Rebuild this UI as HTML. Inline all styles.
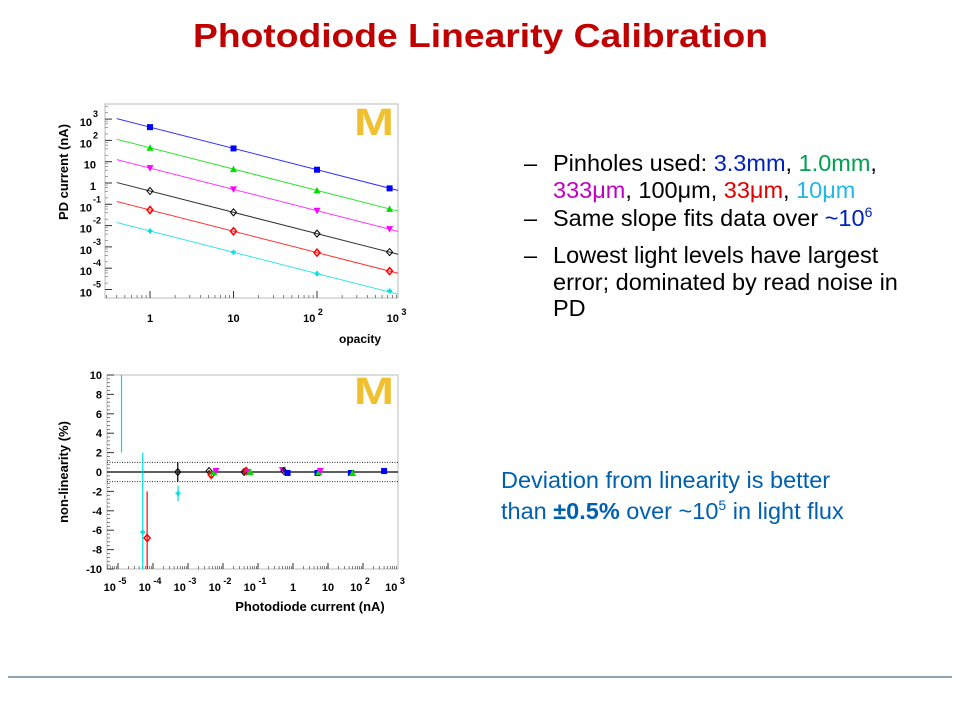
<!DOCTYPE html>
<html><head><meta charset="utf-8"><style>
body{margin:0;width:960px;height:720px;background:#fff;overflow:hidden;font-family:"Liberation Sans",sans-serif}
svg{position:absolute;left:0;top:0}
</style></head><body>
<svg width="960" height="720" font-family="Liberation Sans, sans-serif">
<text x="193" y="47" textLength="575" lengthAdjust="spacingAndGlyphs" font-size="33" font-weight="bold" fill="#c00000">Photodiode Linearity Calibration</text>
<g font-size="23.5" fill="#000">
<text x="524" y="171">–</text><text x="553" y="171">Pinholes used: <tspan fill="#0020c0">3.3mm</tspan>, <tspan fill="#00a050">1.0mm</tspan>,</text>
<text x="553" y="198"><tspan fill="#c000c0">333μm</tspan>, 100μm, <tspan fill="#e00000">33μm</tspan>, <tspan fill="#20b8e8">10μm</tspan></text>
<text x="524" y="226">–</text><text x="553" y="226">Same slope fits data over <tspan fill="#0020c0">~10<tspan font-size="14" dy="-9">6</tspan></tspan></text>
<text x="524" y="263">–</text><text x="553" y="263">Lowest light levels have largest</text>
<text x="553" y="290">error; dominated by read noise in</text>
<text x="553" y="316">PD</text>
</g>
<g font-size="23.5" fill="#0060b0">
<text x="501" y="488">Deviation from linearity is better</text>
<text x="501" y="519">than <tspan font-weight="bold">±0.5%</tspan> over ~10<tspan font-size="14" dy="-9">5</tspan><tspan dy="9"> in light flux</tspan></text>
</g>
<line x1="8" y1="677" x2="952" y2="677" stroke="#1f4e5a" stroke-width="1"/>
<g id="top"></g>
<g id="bot"></g>
</svg>
<script>
const NS='http://www.w3.org/2000/svg';
function mk(p,t,a){const e=document.createElementNS(NS,t);for(const k in a)e.setAttribute(k,a[k]);p.appendChild(e);return e;}
const seriesColors=['#0000ff','#00dd00','#ff00ff','#000000','#ff0000','#00e0e0'];
// top chart data
const opacity=[1,10,100,740];
const fitAtOne=[420,45,5,0.42,0.054,0.0056];
const seriesValues=[
 [420,42,4.2,0.56],
 [45,4.5,0.45,0.061],
 [5,0.5,0.05,0.0068],
 [0.42,0.042,0.0042,0.00057],
 [0.054,0.0054,0.00054,0.000073],
 [0.0056,0.00056,0.000056,0.0000085]];
const topXTicks=['1','10','10 2','10 3'];
const topYTicks=['10 3','10 2','10','1','10 -1','10 -2','10 -3','10 -4','10 -5'];
// bottom chart data
const pdCurrent=[1.26e-5,5.1e-5,6.8e-5,5.1e-4,5.2e-4,4.0e-3,4.6e-3,5.5e-3,6.3e-3,4.0e-2,4.6e-2,5.2e-2,6.0e-2,0.5,0.55,0.7,5,5.5,6,45,50,400];
const nonLin=[12,-6.2,-6.8,0,-2.2,0.1,-0.3,0,0.1,0,0.1,0,0,0.2,0.1,-0.1,-0.1,0,0.1,-0.1,-0.1,0.1];
const errLo=[2,-10,-10,-1,-3,0,-0.5,-0.2,0,-0.2,0,-0.2,-0.2,0,0,-0.3,-0.3,-0.2,0,-0.2,-0.2,0];
const errHi=[10,2,-2,1,-1.4,0.2,0,0.2,0.2,0.2,0.2,0.2,0.2,0.4,0.3,0.1,0.1,0.2,0.2,0.1,0.1,0.2];
const pointSeries=[5,5,4,3,5,3,4,1,2,3,4,2,1,2,3,0,0,1,2,0,1,0];
const botXTicks=['10 -5','10 -4','10 -3','10 -2','10 -1','1','10','10 2','10 3'];
const botYTicks=[10,8,6,4,2,0,-2,-4,-6,-8,-10];

function marker(g,c,cx,cy){
 if(c===0)mk(g,'rect',{x:cx-3,y:cy-3,width:6,height:6,fill:seriesColors[0]});
 else if(c===1)mk(g,'polygon',{points:`${cx},${cy-3.5} ${cx+3.5},${cy+3} ${cx-3.5},${cy+3}`,fill:seriesColors[1]});
 else if(c===2)mk(g,'polygon',{points:`${cx},${cy+3.5} ${cx+3.5},${cy-3} ${cx-3.5},${cy-3}`,fill:seriesColors[2]});
 else if(c===3)mk(g,'polygon',{points:`${cx},${cy-3.5} ${cx+3},${cy} ${cx},${cy+3.5} ${cx-3},${cy}`,fill:'none',stroke:'#000'});
 else if(c===4)mk(g,'polygon',{points:`${cx},${cy-3.5} ${cx+3},${cy} ${cx},${cy+3.5} ${cx-3},${cy}`,fill:'none',stroke:'#ff0000','stroke-width':1.5});
 else mk(g,'path',{d:`M${cx-2.5},${cy}h5M${cx},${cy-2.5}v5`,stroke:seriesColors[5],'stroke-width':2});
}
function logo(g,x,y){
 const l=mk(g,'text',{x:x,y:y,'font-size':38,'font-weight':'bold','font-family':'Liberation Sans, sans-serif',fill:'#f0c030',textLength:40,lengthAdjust:'spacingAndGlyphs'});l.textContent='M';
 
}
function tickLabel(g,x,y,s,anchor){
 const p=s.split(' ');const t=mk(g,'text',{x:x,y:y,'font-size':11,'font-weight':'bold','text-anchor':anchor||'middle'});
 t.textContent=p[0];
 if(p[1]){const ts=mk(t,'tspan',{dy:-7,'font-size':9});ts.textContent=' '+p[1];}
}
// TOP
(function(){
 const g=document.getElementById('top');
 const L=105,R=398,T=104,B=298;
 const xs=v=>150+Math.log10(v)*83.5;
 const ys=v=>183-Math.log10(v)*21.3;
 const fr=mk(g,'rect',{x:L,y:T,width:R-L,height:B-T,fill:'#fff',stroke:'#bbb'});
 
 for(let d=-1;d<3;d++)for(let k=1;k<10;k++){const x=xs(k*Math.pow(10,d));if(x<L||x>R)continue;mk(g,'line',{x1:x,y1:B,x2:x,y2:B-(k===1?7:3),stroke:'#333','stroke-width':k===1?1:0.6});}
 for(let d=-6;d<4;d++){const y=ys(Math.pow(10,d));if(y<T||y>B)continue;mk(g,'line',{x1:L,y1:y,x2:L+7,y2:y,stroke:'#333'});
  for(let k=2;k<10;k+=2){const y2=ys(k*Math.pow(10,d));if(y2<T)continue;mk(g,'line',{x1:L,y1:y2,x2:L+3,y2:y2,stroke:'#666','stroke-width':0.6});}}
 topXTicks.forEach((s,i)=>tickLabel(g,xs(Math.pow(10,i))-(i>1?4:0),322,s));
 topYTicks.forEach((s,i)=>{const p=s.split(' ');tickLabel(g,p[1]?92:96,ys(Math.pow(10,3-i))+7,p[0],'end');
  if(p[1]){const t=mk(g,'text',{x:93,y:ys(Math.pow(10,3-i))-2,'font-size':9,'font-weight':'bold'});t.textContent=p[1];}});
 const yt=mk(g,'text',{transform:'translate(68,172) rotate(-90)','text-anchor':'middle','font-size':13,'font-weight':'bold'});yt.textContent='PD current (nA)';
 
 const xt=mk(g,'text',{x:360,y:343,'text-anchor':'middle','font-size':12,'font-weight':'bold'});xt.textContent='opacity';
 
 fitAtOne.forEach((a,i)=>{const x0=0.4,x1=Math.pow(10,(R-150)/83.5);
  const ln=mk(g,'line',{x1:xs(x0),y1:ys(a/x0),x2:xs(x1),y2:ys(a/x1),stroke:seriesColors[i],'stroke-width':1,opacity:0.8});
  });
 seriesValues.forEach((sv,i)=>sv.forEach((v,j)=>marker(g,i,xs(opacity[j]),ys(v))));
 logo(g,354,135);
})();
// BOTTOM
(function(){
 const g=document.getElementById('bot');
 const L=107,R=398,T=375,B=569;
 const xs=v=>398-(3-Math.log10(v))*35;
 const ys=v=>472-v*9.7;
 const fr=mk(g,'rect',{x:L,y:T,width:R-L,height:B-T,fill:'#fff',stroke:'#bbb'});
 
 for(let d=-6;d<3;d++)for(let k=1;k<10;k++){const x=xs(k*Math.pow(10,d));if(x<L||x>R)continue;mk(g,'line',{x1:x,y1:B,x2:x,y2:B-(k===1?6:3),stroke:'#333','stroke-width':k===1?1:0.6});}
 for(let i=0;i<=50;i++){const v=-10+i*0.4;const y=ys(v);const maj=i%5===0;mk(g,'line',{x1:L,y1:y,x2:L+(maj?7:3),y2:y,stroke:'#333','stroke-width':maj?1:0.6});}
 botXTicks.forEach((s,i)=>tickLabel(g,xs(Math.pow(10,i-5))-(s.includes(' ')?3:0),591,s));
 botYTicks.forEach(v=>tickLabel(g,L-5,ys(v)+4,String(v),'end'));
 [1,-1].forEach(v=>mk(g,'line',{x1:L,y1:ys(v),x2:R,y2:ys(v),stroke:'#000','stroke-dasharray':'1,1.5','stroke-width':0.8}));
 mk(g,'line',{x1:L,y1:ys(0),x2:R,y2:ys(0),stroke:'#000','stroke-width':1.2});
 const yt=mk(g,'text',{transform:'translate(68,472) rotate(-90)','text-anchor':'middle','font-size':13,'font-weight':'bold'});yt.textContent='non-linearity (%)';
 
 const xt=mk(g,'text',{x:310,y:611,'text-anchor':'middle','font-size':13,'font-weight':'bold'});xt.textContent='Photodiode current (nA)';
 
 pdCurrent.forEach((c,i)=>{const x=xs(c);const col=seriesColors[pointSeries[i]];
  const eb=mk(g,'line',{x1:x,y1:ys(Math.min(errHi[i],10)),x2:x,y2:ys(Math.max(errLo[i],-10)),stroke:col,'stroke-width':1.2});
  
  if(Math.abs(nonLin[i])<=10)marker(g,pointSeries[i],x,ys(nonLin[i]));});
 logo(g,354,404);
})();
</script>
</body></html>
